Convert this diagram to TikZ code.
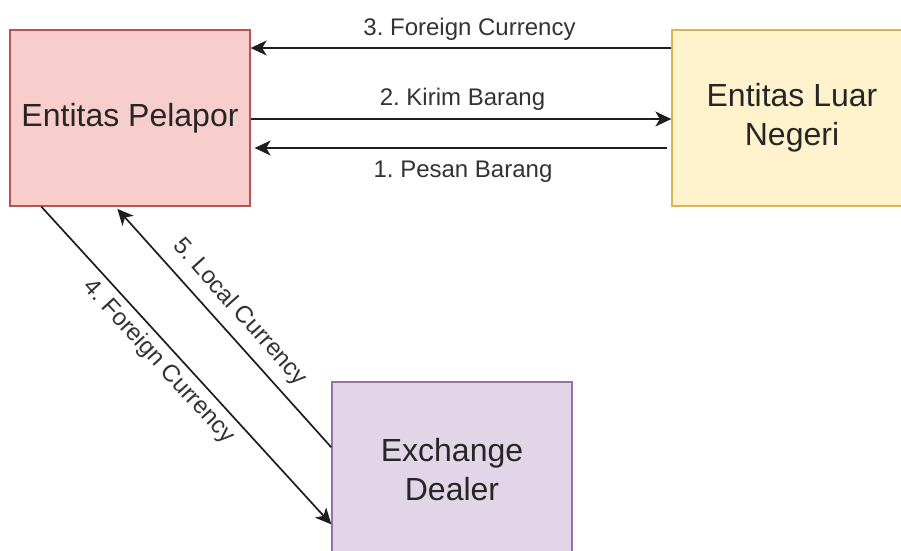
\documentclass[tikz,border=0pt]{standalone}
\usepackage{fontspec}
\setmainfont{Liberation Sans}
\frenchspacing
\usetikzlibrary{arrows.meta,calc}
\definecolor{redfill}{HTML}{F8CECC}
\definecolor{redline}{HTML}{B85450}
\definecolor{yelfill}{HTML}{FFF2CC}
\definecolor{yelline}{HTML}{D6B656}
\definecolor{purfill}{HTML}{E1D5E7}
\definecolor{purline}{HTML}{9673A6}
\definecolor{linecol}{HTML}{1E1E1E}
\definecolor{txtcol}{HTML}{262626}
\definecolor{lblcol}{HTML}{333333}
\tikzset{
  entity/.style={draw, line width=1.3pt, minimum width=240pt, minimum height=176pt,
    inner sep=0pt, align=center, text=txtcol, font=\fontsize{32}{39}\selectfont},
  flow/.style={draw=linecol, line width=1.7pt},
  tip/.style={-{Stealth[length=16pt,width=15pt,inset=4.5pt]}},
  rtip/.style={{Stealth[length=16pt,width=15pt,inset=4.5pt]}-},
  lbl/.style={text=lblcol, inner sep=0pt, font=\fontsize{24}{29}\selectfont}
}
\begin{document}
\begin{tikzpicture}[x=1pt,y=-1pt]
\useasboundingbox (0,0) rectangle (901,550);
\clip (0,0) rectangle (901,550);
\fill[white] (0,0) rectangle (901,550);

\node[entity, fill=redfill, draw=redline] (pel) at (130,118) {Entitas Pelapor};
\node[entity, fill=yelfill, draw=yelline] (luar) at (792,118) {Entitas Luar\\Negeri};
\node[entity, fill=purfill, draw=purline] (ex) at (452,470) {Exchange\\Dealer};

% 3. Foreign Currency
\draw[flow, tip] (luar.west |- 0,48) -- (pel.east |- 0,48)
  node[lbl, midway, anchor=base, xshift=8.5pt, yshift=13pt] (l3) {3. Foreign Currency};
% 2. Kirim Barang
\draw[flow, tip] (pel.east |- 0,119) -- (luar.west |- 0,119)
  node[lbl, midway, anchor=base, xshift=1.5pt, yshift=14pt] (l2) {2. Kirim Barang};
% 1. Pesan Barang
\draw[flow, tip, shorten <=4pt, shorten >=4pt] (luar.west |- 0,148) -- (pel.east |- 0,148)
  node[lbl, midway, anchor=base, xshift=2pt, yshift=-29pt] (l1) {1. Pesan Barang};

% 4. Foreign Currency
\draw[flow, tip] ($(pel.south west)+(32,0)$) -- ($(ex.north west)+(0,143)$)
  node[lbl, sloped, pos=0.45, below=6pt] (l4) {4. Foreign Currency};
% 5. Local Currency
\draw[flow, rtip, shorten <=3pt] ($(pel.south west)+(106,0)$) -- ($(ex.north west)+(0,66)$)
  node[lbl, sloped, pos=0.5, above=10pt] (l5) {5. Local Currency};
\end{tikzpicture}
\end{document}
